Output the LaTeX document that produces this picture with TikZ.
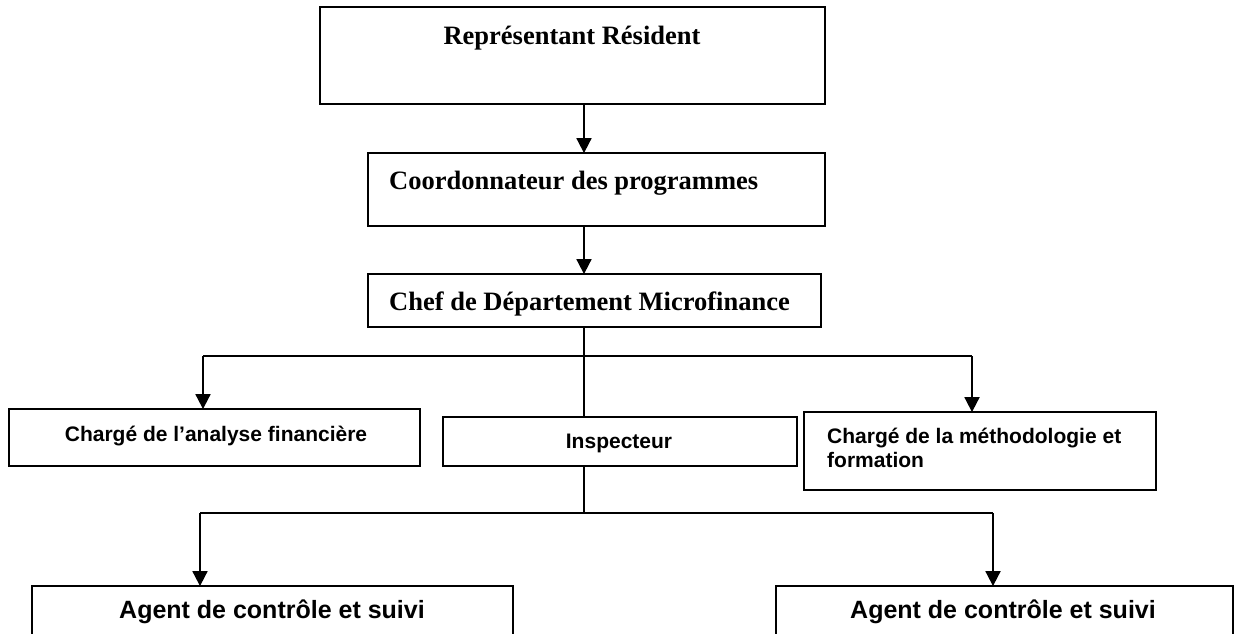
\documentclass[tikz,border=0pt]{standalone}
\usepackage{fontspec}
\setmainfont{Liberation Serif}
\setsansfont{Liberation Sans}
\usetikzlibrary{arrows.meta}
\begin{document}
\begin{tikzpicture}[x=1pt,y=-1pt,
  box/.style={draw, line width=1.8pt, rectangle, inner sep=0pt},
  serift/.style={font=\fontsize{26.5}{30}\selectfont\bfseries, inner sep=0pt},
  sanst/.style={font=\fontsize{21}{24}\selectfont\sffamily\bfseries, inner sep=0pt},
  bigsans/.style={font=\fontsize{25}{28}\selectfont\sffamily\bfseries, inner sep=0pt},
  conn/.style={line width=1.8pt},
  arr/.style={line width=1.8pt, -{Triangle[width=15pt,length=15pt]}, shorten >=-1pt}
]
\useasboundingbox (0,0) rectangle (1240,633);
\clip (0,0) rectangle (1240,633);
\fill[white] (0,0) rectangle (1240,633);

% boxes
\node[box, minimum width=505pt, minimum height=97pt] (rr) at (572.5,55.5) {};
\node[box, minimum width=457pt, minimum height=73pt] (cp) at (596.5,189.5) {};
\node[box, minimum width=453pt, minimum height=53pt] (cd) at (594.5,300.5) {};
\node[box, minimum width=411pt, minimum height=57pt] (af) at (214.5,437.5) {};
\node[box, minimum width=354pt, minimum height=49pt] (in) at (620,441.5) {};
\node[box, minimum width=352pt, minimum height=78pt] (mf) at (980,451) {};
\node[box, minimum width=481pt, minimum height=80pt] (ag1) at (272.5,626) {};
\node[box, minimum width=457pt, minimum height=80pt] (ag2) at (1004.5,626) {};

% texts
\node[serift, anchor=base] (t1) at (572,44) {Représentant Résident};
\node[serift, anchor=base west] (t2) at (389,189) {Coordonnateur des programmes};
\node[serift, anchor=base west] (t3) at (389,310) {Chef de Département Microfinance};
\node[sanst, anchor=base] (t4) at (216,441) {Chargé de l’analyse financière};
\node[sanst, anchor=base] (t5) at (619,448) {Inspecteur};
\node[sanst, anchor=base west] (t6a) at (827,443) {Chargé de la méthodologie et};
\node[sanst, anchor=base west] (t6b) at (827,467) {formation};
\node[bigsans, anchor=base] (t7) at (272,618) {Agent de contrôle et suivi};
\node[bigsans, anchor=base] (t8) at (1003,618) {Agent de contrôle et suivi};

% connector coordinates
\coordinate (trunk) at (584,0);
\coordinate (busA) at (0,356);
\coordinate (busB) at (0,513);
\coordinate (xl) at (203,0);
\coordinate (xr) at (972,0);
\coordinate (xl2) at (200,0);
\coordinate (xr2) at (993,0);

\draw[arr] (rr.south -| trunk) -- (cp.north -| trunk);
\draw[arr] (cp.south -| trunk) -- (cd.north -| trunk);
\draw[conn] (cd.south -| trunk) -- (in.north -| trunk);
\draw[conn] (busA -| xl) -- (busA -| xr);
\draw[arr] (busA -| xl) -- (af.north -| xl);
\draw[arr] (busA -| xr) -- (mf.north -| xr);
\draw[conn] (in.south -| trunk) -- (busB -| trunk);
\draw[conn] (busB -| xl2) -- (busB -| xr2);
\draw[arr] (busB -| xl2) -- (ag1.north -| xl2);
\draw[arr] (busB -| xr2) -- (ag2.north -| xr2);
\end{tikzpicture}
\end{document}
